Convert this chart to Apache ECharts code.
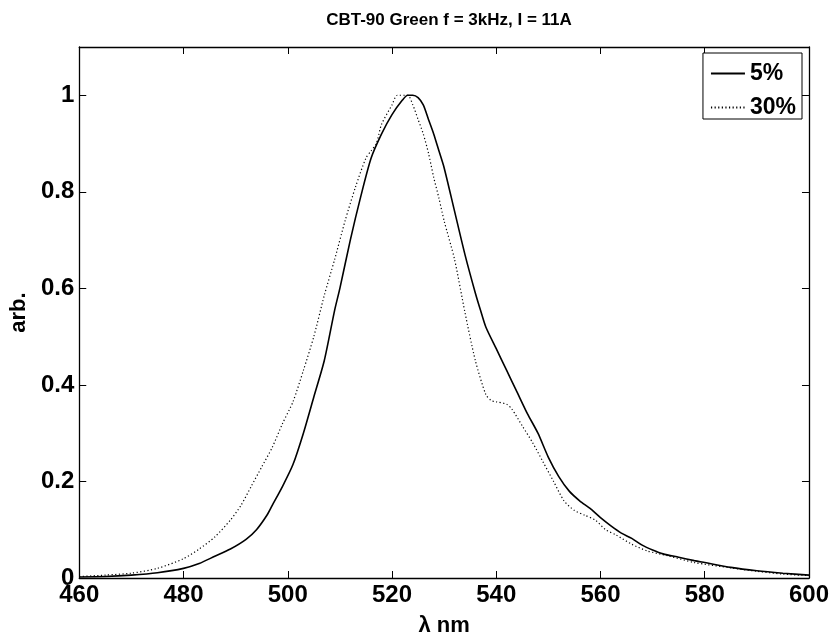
<!DOCTYPE html>
<html>
<head>
<meta charset="utf-8">
<script src="https://cdn.jsdelivr.net/npm/echarts@6/dist/echarts.min.js"></script>
<style>
  html, body { margin: 0; padding: 0; background: #fff; }
  #chart { width: 832px; height: 642px; }
</style>
</head>
<body>
<div id="chart"></div>
<script>
// ---- data ----
const titleText = 'CBT-90 Green f = 3kHz, I = 11A';
const xName = 'λ nm';
const yName = 'arb.';
const seriesNames = ['5%', '30%'];
const xTicks = [460, 480, 500, 520, 540, 560, 580, 600];
const yTicks = [0, 0.2, 0.4, 0.6, 0.8, 1];

const wl5 = [460, 465, 470, 475, 480, 483, 486, 489, 492, 494, 496, 497, 499, 501, 503, 505, 507, 509, 510, 512, 514, 516, 518, 520, 522, 523, 524, 525, 526, 527, 528, 529, 530, 532, 534, 536, 537, 538, 540, 542, 544, 546, 548, 550, 552, 554, 556, 558, 560, 562, 564, 566, 568, 570, 572, 575, 578, 580, 585, 590, 595, 600];
const val5 = [0.002, 0.003, 0.006, 0.011, 0.02, 0.03, 0.045, 0.06, 0.08, 0.10, 0.13, 0.15, 0.19, 0.235, 0.30, 0.375, 0.45, 0.555, 0.60, 0.70, 0.79, 0.87, 0.92, 0.96, 0.99, 1.0, 1.0, 0.995, 0.98, 0.95, 0.92, 0.885, 0.85, 0.76, 0.67, 0.59, 0.554, 0.52, 0.475, 0.43, 0.385, 0.34, 0.30, 0.25, 0.21, 0.18, 0.16, 0.144, 0.125, 0.108, 0.093, 0.082, 0.068, 0.058, 0.05, 0.043, 0.036, 0.032, 0.022, 0.015, 0.01, 0.006];

const wl30 = [460, 465, 470, 475, 480, 483, 486, 489, 491, 493, 495, 497, 499, 501, 503, 505, 507, 509, 511, 513, 515, 516, 517, 518, 520, 521, 523, 524, 525, 526, 527, 528, 529, 530, 532, 534, 536, 538, 539, 540, 542, 543, 545, 547, 549, 551, 553, 555, 557, 559, 561, 563, 566, 569, 573, 578, 585, 590, 595, 600];
const val30 = [0.003, 0.006, 0.01, 0.02, 0.04, 0.06, 0.085, 0.12, 0.15, 0.19, 0.23, 0.27, 0.32, 0.365, 0.43, 0.50, 0.585, 0.66, 0.74, 0.81, 0.87, 0.885, 0.90, 0.94, 0.98, 1.0, 1.0, 0.98, 0.95, 0.92, 0.88, 0.83, 0.787, 0.74, 0.66, 0.55, 0.45, 0.38, 0.368, 0.365, 0.36, 0.35, 0.315, 0.28, 0.24, 0.20, 0.16, 0.14, 0.13, 0.12, 0.10, 0.089, 0.07, 0.056, 0.046, 0.032, 0.021, 0.014, 0.008, 0.005];

// ---- chart ----
const FONT = '"Liberation Sans", Arial, Helvetica, sans-serif';
const chart = echarts.init(document.getElementById('chart'), null, { renderer: 'canvas' });

const pairs = (xs, ys) => xs.map((x, i) => [x, ys[i]]);

const tickStyle = { show: true, inside: true, length: 7, lineStyle: { color: '#000', width: 1 } };
const lineStyleAxis = { show: true, onZero: false, lineStyle: { color: '#000', width: 1.3 } };

chart.setOption({
  animation: false,
  backgroundColor: '#fff',
  title: {
    text: titleText,
    left: 444,
    top: 7,
    textAlign: 'center',
    textStyle: { fontFamily: FONT, fontSize: 17, fontWeight: 'bold', color: '#000' }
  },
  grid: { left: 78, right: 23, top: 47, bottom: 59, containLabel: false },
  legend: {
    data: seriesNames,
    orient: 'vertical',
    right: 30,
    top: 53,
    itemWidth: 34,
    itemHeight: 14,
    itemGap: 11,
    padding: [9, 6, 0, 7],
    backgroundColor: '#fff',
    borderColor: '#000',
    borderWidth: 1,
    borderRadius: 0,
    itemStyle: { opacity: 0 },
    textStyle: { fontFamily: FONT, fontSize: 23, fontWeight: 'bold', color: '#000' }
  },
  xAxis: [
    {
      type: 'value', position: 'bottom', min: 460, max: 600, interval: 20,
      name: xName, nameLocation: 'middle', nameGap: 37,
      nameTextStyle: { fontFamily: FONT, fontSize: 22, fontWeight: 'bold', color: '#000' },
      axisLine: lineStyleAxis,
      axisTick: Object.assign({ customValues: xTicks }, tickStyle),
      axisLabel: { customValues: xTicks, margin: 5, fontFamily: FONT, fontSize: 24, fontWeight: 'bold', color: '#000' },
      splitLine: { show: false }
    },
    {
      type: 'value', position: 'top', min: 460, max: 600, interval: 20,
      axisLine: lineStyleAxis,
      axisTick: Object.assign({ customValues: xTicks }, tickStyle),
      axisLabel: { show: false },
      splitLine: { show: false }
    }
  ],
  yAxis: [
    {
      type: 'value', position: 'left', min: 0, max: 1.1, interval: 0.2,
      name: yName, nameLocation: 'middle', nameGap: 43, nameRotate: 90,
      nameTextStyle: { fontFamily: FONT, fontSize: 22, fontWeight: 'bold', color: '#000' },
      axisLine: lineStyleAxis,
      axisTick: Object.assign({ customValues: yTicks }, tickStyle),
      axisLabel: { customValues: yTicks, margin: 5, fontFamily: FONT, fontSize: 24, fontWeight: 'bold', color: '#000',
                   formatter: v => String(+v.toFixed(1)) },
      splitLine: { show: false }
    },
    {
      type: 'value', position: 'right', min: 0, max: 1.1, interval: 0.2,
      axisLine: lineStyleAxis,
      axisTick: Object.assign({ customValues: yTicks }, tickStyle),
      axisLabel: { show: false },
      splitLine: { show: false }
    }
  ],
  series: [
    {
      name: seriesNames[0], type: 'line', xAxisIndex: 0, yAxisIndex: 0,
      data: pairs(wl5, val5), symbol: 'none', showSymbol: false, smooth: 0.25,
      lineStyle: { color: '#000', width: 1.6, type: 'solid' },
      itemStyle: { color: '#000' }
    },
    {
      name: seriesNames[1], type: 'line', xAxisIndex: 0, yAxisIndex: 0,
      data: pairs(wl30, val30), symbol: 'none', showSymbol: false, smooth: 0.25,
      lineStyle: { color: '#000', width: 1.2, type: [1.2, 2.4] },
      itemStyle: { color: '#000' }
    }
  ]
});
</script>
</body>
</html>
